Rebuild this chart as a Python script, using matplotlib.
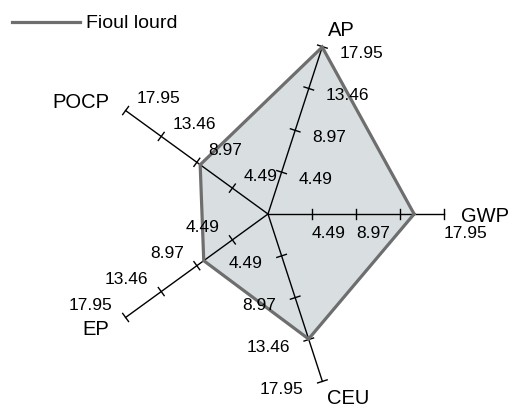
import numpy as np
import matplotlib.pyplot as plt
from matplotlib.transforms import offset_copy

# radar chart "Fioul lourd" - 5 indicateurs
axes_names = ['GWP', 'AP', 'POCP', 'EP', 'CEU']
values = [14.9, 17.9, 8.55, 8.1, 13.4]
ticks = [4.49, 8.97, 13.46, 17.95]
tick_labels = ['4.49', '8.97', '13.46', '17.95']
# labels shown on each axis (GWP has no 13.46)
shown = {
    'GWP': [True, True, False, True],
    'AP': [True, True, True, True],
    'POCP': [True, True, True, True],
    'EP': [True, True, True, True],
    'CEU': [True, True, True, True],
}
series_name = 'Fioul lourd'

plt.rcParams['font.family'] = ['Liberation Sans', 'DejaVu Sans']

W, H = 512, 407
cx, cy = 268, 214          # centre in pixels
rpix = 176                 # pixel length of the max tick
rmax = ticks[-1]
s = rpix / rmax

fig = plt.figure(figsize=(W / 100, H / 100), dpi=100)
ax = fig.add_axes([0, 0, 1, 1])
ax.set_xlim(-cx / s, (W - cx) / s)
ax.set_ylim(-(H - cy) / s, cy / s)
ax.axis('off')

angles = np.deg2rad(np.arange(len(axes_names)) * 72.0)

# polygon
px = [v * np.cos(a) for v, a in zip(values, angles)]
py = [v * np.sin(a) for v, a in zip(values, angles)]
ax.fill(px, py, color='#d9dfe1', zorder=1)

# axis lines + tick marks
half = 5 / s
for name, a in zip(axes_names, angles):
    ax.plot([0, rmax * np.cos(a)], [0, rmax * np.sin(a)], color='black', lw=1.0, zorder=2)
    nx, ny = -np.sin(a), np.cos(a)
    for t in ticks:
        x0, y0 = t * np.cos(a), t * np.sin(a)
        ax.plot([x0 - half * nx, x0 + half * nx], [y0 - half * ny, y0 + half * ny],
                color='black', lw=1.0, zorder=2)

ax.plot(px + px[:1], py + py[:1], color='#6e6e6e', lw=2.3, zorder=3,
        solid_joinstyle='miter')

# tick label offsets (pixels, x right / y down), alignment
tick_off = {
    'GWP': (0, 20, 'left'),
    'AP': (17, 7, 'left'),
    'POCP': (11, -12, 'left'),
    'EP': (-13, -12, 'right'),
    'CEU': (-19, 8, 'right'),
}
name_off = {
    'GWP': (17, 3, 'left'),
    'AP': (6, -16, 'left'),
    'POCP': (-16, -8, 'right'),
    'EP': (-16, 12, 'right'),
    'CEU': (5, 17, 'left'),
}

for name, a in zip(axes_names, angles):
    dx, dy, ha = tick_off[name]
    tr = offset_copy(ax.transData, fig=fig, x=dx, y=-dy, units='dots')
    for t, lab, ok in zip(ticks, tick_labels, shown[name]):
        if ok:
            ax.text(t * np.cos(a), t * np.sin(a), lab, transform=tr, ha=ha,
                    va='center', fontsize=12.5, zorder=4)
    dx, dy, ha = name_off[name]
    tr = offset_copy(ax.transData, fig=fig, x=dx, y=-dy, units='dots')
    ax.text(rmax * np.cos(a), rmax * np.sin(a), name, transform=tr, ha=ha,
            va='center', fontsize=14.5, zorder=4)

# legend
ax.plot([], [], color='#6e6e6e', lw=2.3, label=series_name)
ax.legend(loc='upper left', bbox_to_anchor=(6 / W, 1 - 9 / H), frameon=False,
          fontsize=14, handlelength=3.5, handletextpad=0.3, borderaxespad=0.0,
          borderpad=0.3)

fig.savefig('out.png', dpi=100)
